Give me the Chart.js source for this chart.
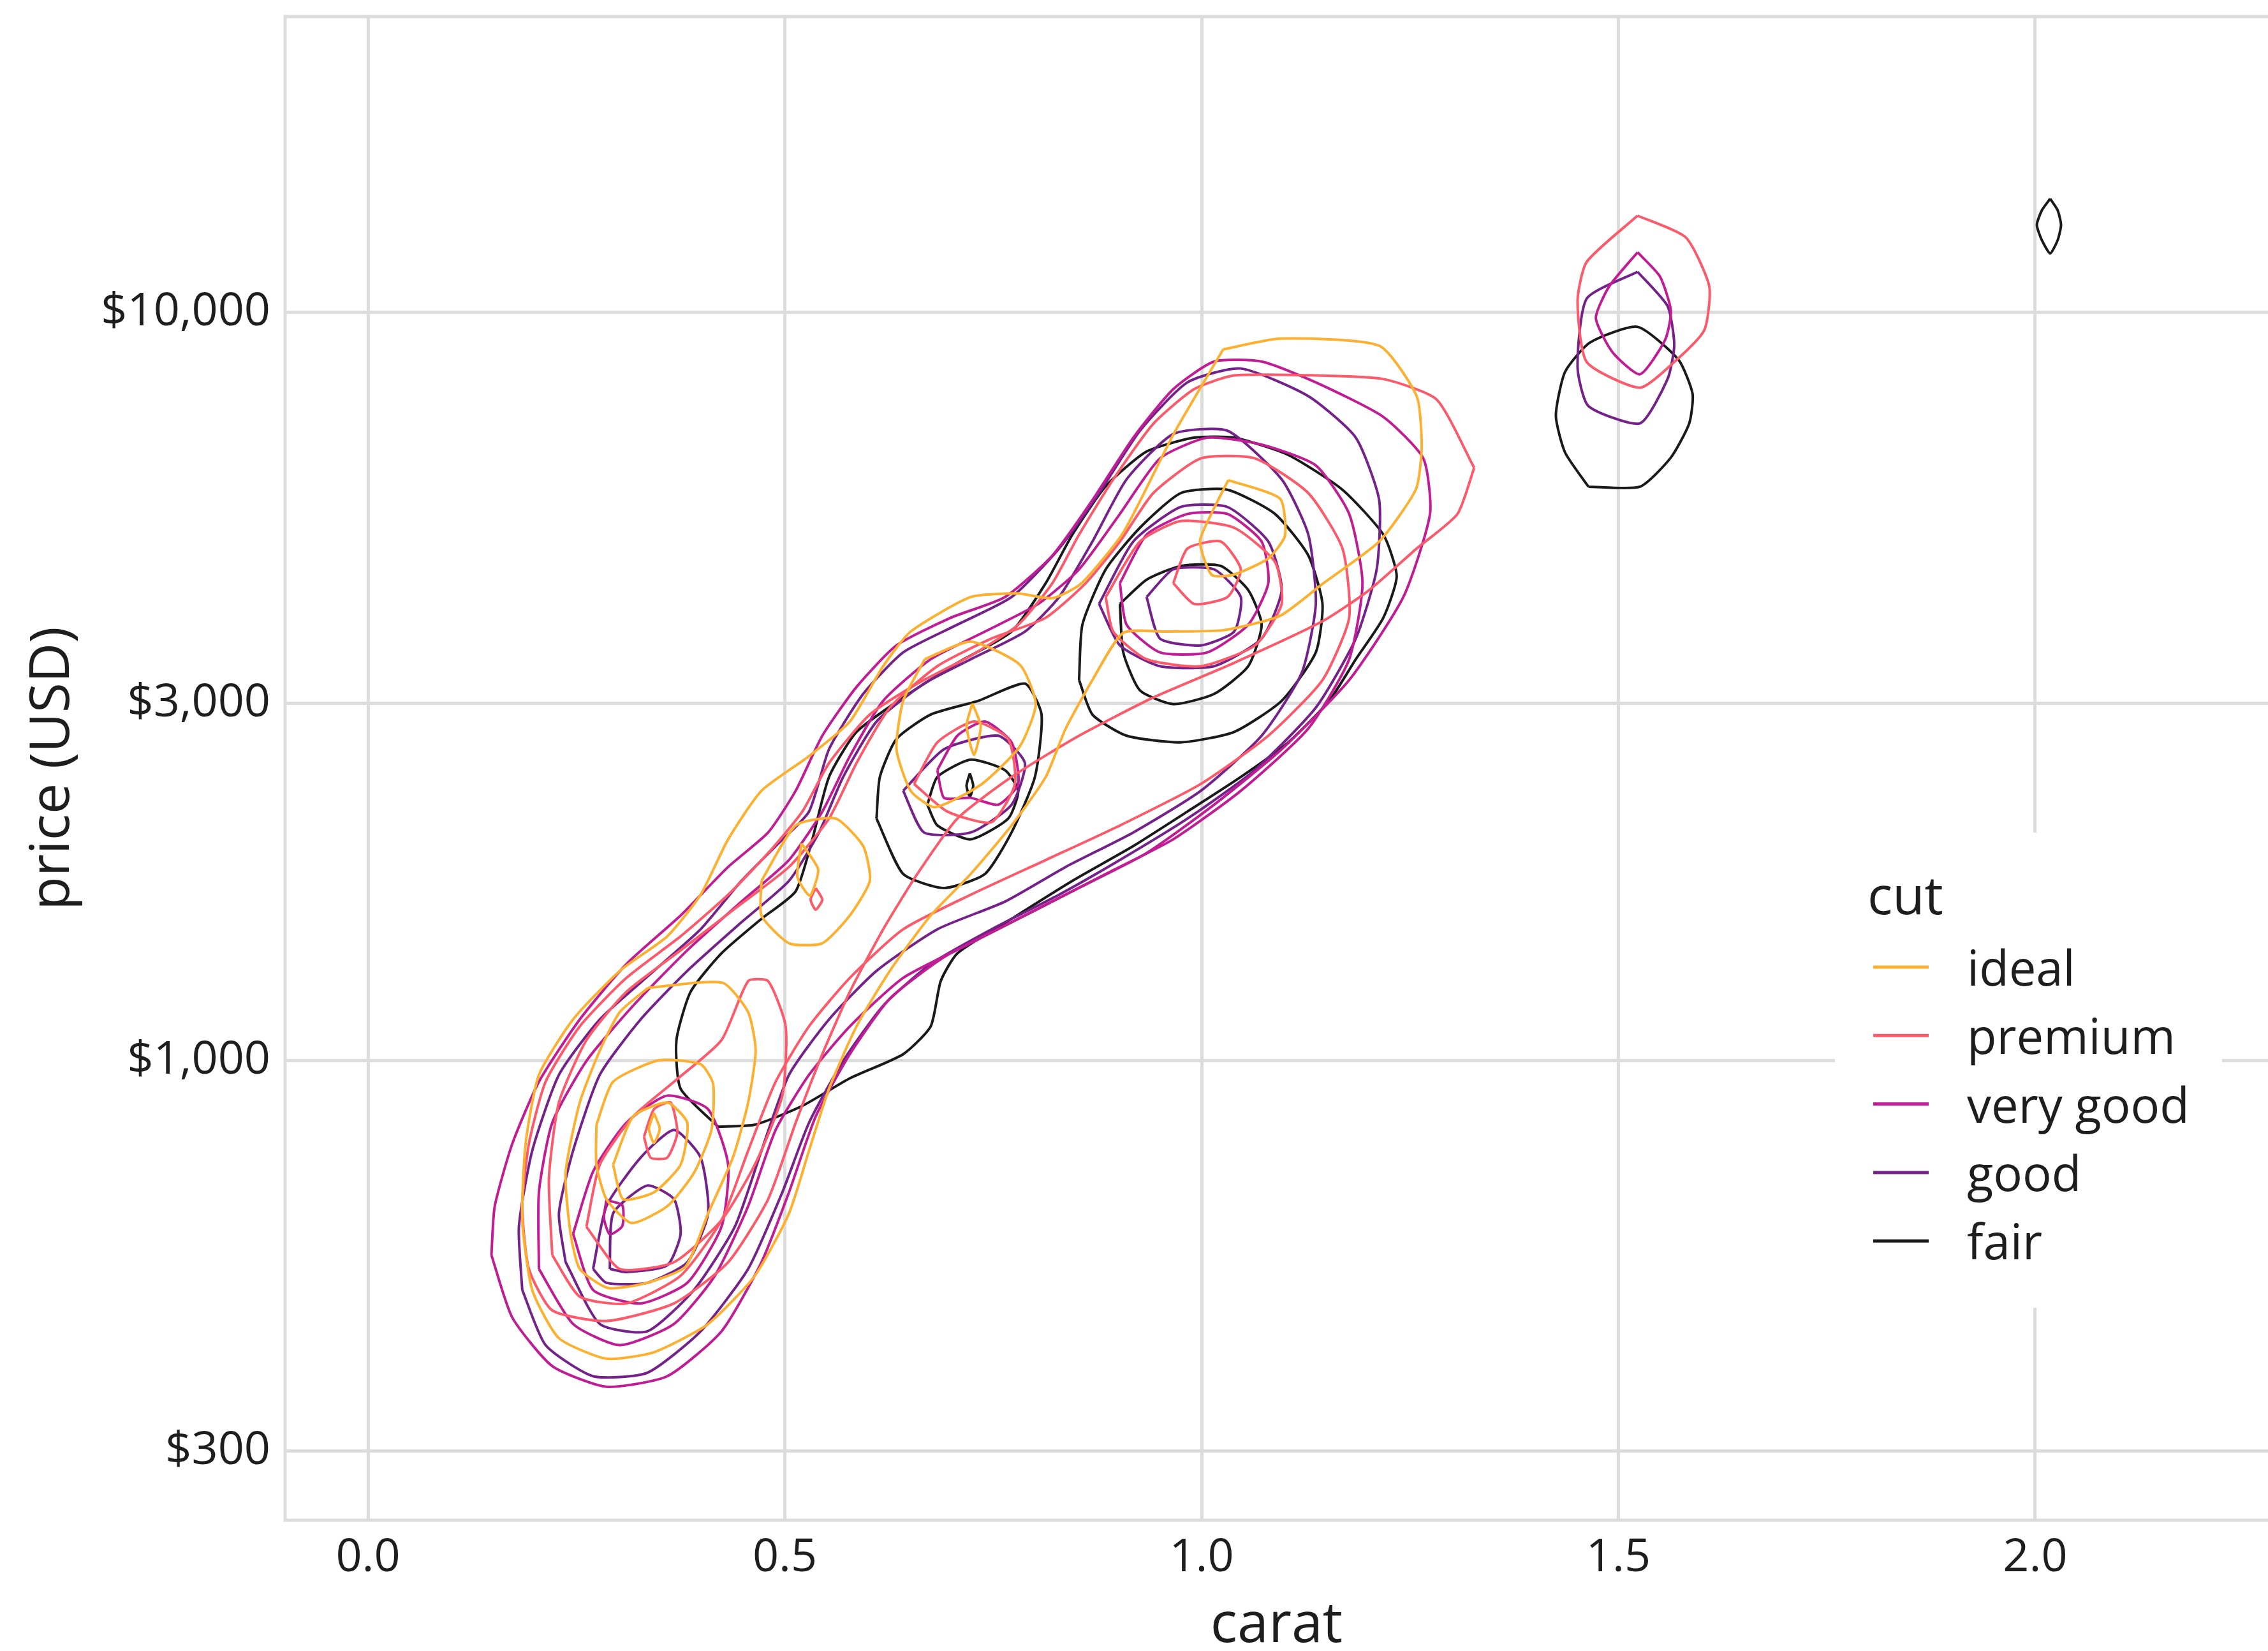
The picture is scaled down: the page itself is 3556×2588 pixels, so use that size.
<!DOCTYPE html>
<html>
<head>
<meta charset="utf-8">
<script src="https://cdn.jsdelivr.net/npm/chart.js@4.4.1/dist/chart.umd.min.js"></script>
<style>
  html, body { margin: 0; padding: 0; background: #ffffff; }
  #wrap { width: 3556px; height: 2588px; }
</style>
</head>
<body>
<div id="wrap"><canvas id="myChart" width="3556" height="2588"></canvas></div>
<script>
const cuts = ["ideal", "premium", "very good", "good", "fair"];
const xTicks = [0, 0.5, 1, 1.5, 2];
const yTicks = [300, 1000, 3000, 10000];

// density contour rings, each point is [carat, price in USD]
const idealRings = [
  [[1.026,8930],[1.094,9230],[1.213,9030],[1.258,7730],[1.264,6600],[1.257,5800],[1.213,4940],[1.145,4336],[1.094,3930],[1.026,3760],[0.958,3744],[0.906,3730],[0.869,3225],[0.837,2778],[0.813,2393],[0.772,2061],[0.723,1775],[0.675,1562],[0.626,1317],[0.586,1110],[0.553,916],[0.529,757],[0.505,624],[0.464,515],[0.408,444],[0.343,407],[0.286,399],[0.229,425],[0.197,493],[0.185,611],[0.189,773],[0.205,956],[0.246,1134],[0.302,1317],[0.359,1465],[0.399,1665],[0.432,1975],[0.472,2293],[0.529,2551],[0.578,2838],[0.618,3366],[0.651,3744],[0.723,4164],[0.78,4210],[0.821,4150],[0.855,4336],[0.906,5080],[0.967,6900]],
  [[0.336,1250],[0.425,1270],[0.456,1160],[0.465,1030],[0.456,878],[0.438,743],[0.408,624],[0.381,530],[0.335,504],[0.288,496],[0.254,526],[0.243,586],[0.237,707],[0.254,878],[0.278,1030],[0.302,1160]],
  [[0.274,820],[0.294,936],[0.349,1000],[0.399,988],[0.414,930],[0.412,807],[0.391,707],[0.359,638],[0.316,606],[0.286,652],[0.274,725]],
  [[0.294,725],[0.318,841],[0.359,878],[0.383,825],[0.375,725],[0.343,666],[0.306,652]],
  [[0.343,850],[0.35,810],[0.343,775],[0.337,810]],
  [[0.472,1738],[0.513,2061],[0.561,2105],[0.594,1934],[0.602,1738],[0.578,1562],[0.545,1434],[0.505,1434],[0.472,1562]],
  [[0.52,1950],[0.54,1800],[0.53,1660],[0.515,1760]],
  [[0.668,3440],[0.723,3630],[0.782,3380],[0.801,2995],[0.782,2630],[0.736,2340],[0.68,2180],[0.651,2293],[0.634,2606],[0.642,3025]],
  [[0.725,3000],[0.735,2800],[0.727,2560],[0.718,2800]],
  [[1.032,5970],[1.094,5640],[1.1,5030],[1.08,4690],[1.038,4460],[1.012,4460],[0.998,4940],[1.012,5390]]
];

const premiumRings = [
  [[1.327,6200],[1.307,5379],[1.258,4835],[1.201,4254],[1.145,3865],[1.039,3400],[0.942,3056],[0.853,2717],[0.772,2393],[0.707,2105],[0.659,1775],[0.618,1497],[0.578,1235],[0.545,1019],[0.513,825],[0.48,652],[0.432,537],[0.367,473],[0.286,448],[0.221,463],[0.193,526],[0.185,638],[0.193,773],[0.213,936],[0.254,1110],[0.31,1289],[0.375,1465],[0.432,1665],[0.48,1893],[0.521,2151],[0.553,2497],[0.602,2900],[0.659,3190],[0.723,3475],[0.78,3825],[0.821,4346],[0.853,5047],[0.894,5984],[0.942,7100],[0.991,7900],[1.039,8240],[1.137,8240],[1.218,8150],[1.282,7650]],
  [[0.221,549],[0.254,483],[0.31,473],[0.375,515],[0.424,611],[0.456,757],[0.489,936],[0.529,1110],[0.578,1289],[0.642,1497],[0.723,1665],[0.813,1853],[0.902,2061],[0.999,2342],[1.08,2717],[1.145,3225],[1.177,3907],[1.169,4835],[1.128,5735],[1.064,6381],[0.999,6381],[0.942,5735],[0.902,4940],[0.861,4346],[0.813,3907],[0.748,3665],[0.683,3366],[0.626,2962],[0.586,2497],[0.553,2105],[0.505,1814],[0.44,1595],[0.375,1403],[0.31,1235],[0.262,1064],[0.229,878],[0.217,695]],
  [[0.262,599],[0.278,725],[0.318,841],[0.367,936],[0.424,1064],[0.456,1276],[0.48,1276],[0.501,1110],[0.497,897],[0.464,725],[0.424,611],[0.367,537],[0.302,526]],
  [[0.331,790],[0.343,860],[0.363,878],[0.371,800],[0.359,741],[0.339,741]],
  [[0.537,1700],[0.545,1640],[0.537,1590],[0.531,1640]],
  [[0.655,2342],[0.683,2662],[0.727,2838],[0.768,2690],[0.776,2342],[0.748,2082],[0.695,2151]],
  [[0.885,4164],[0.926,4940],[0.975,5262],[1.039,5155],[1.088,4640],[1.096,4077],[1.064,3588],[0.999,3366],[0.934,3438],[0.894,3744]],
  [[0.966,4346],[0.983,4835],[1.023,4940],[1.047,4535],[1.031,4164],[0.991,4077]],
  [[1.523,13480],[1.581,12600],[1.609,10840],[1.603,9470],[1.567,8587],[1.526,7935],[1.462,8587],[1.451,10360],[1.462,11690]]
];

const veryGoodRings = [
  [[0.148,549],[0.173,453],[0.221,390],[0.286,366],[0.359,378],[0.424,434],[0.472,537],[0.505,666],[0.537,841],[0.578,1019],[0.626,1209],[0.691,1374],[0.772,1530],[0.853,1701],[0.934,1893],[1.015,2197],[1.096,2606],[1.177,3225],[1.242,4164],[1.274,5379],[1.266,6381],[1.218,7252],[1.137,8066],[1.072,8600],[1.015,8600],[0.966,7900],[0.918,6803],[0.869,5613],[0.821,4733],[0.764,4164],[0.699,3907],[0.634,3588],[0.586,3157],[0.545,2717],[0.513,2293],[0.48,2017],[0.432,1814],[0.375,1562],[0.31,1345],[0.254,1134],[0.205,936],[0.173,773],[0.152,638]],
  [[0.205,526],[0.246,444],[0.302,416],[0.367,444],[0.416,515],[0.456,638],[0.489,807],[0.529,956],[0.578,1110],[0.642,1289],[0.723,1434],[0.804,1595],[0.885,1775],[0.966,1975],[1.047,2293],[1.128,2778],[1.177,3438],[1.193,4346],[1.177,5379],[1.137,6245],[1.072,6659],[1.007,6803],[0.95,6381],[0.902,5379],[0.853,4535],[0.804,4077],[0.74,3744],[0.675,3438],[0.618,3025],[0.578,2551],[0.545,2151],[0.505,1853],[0.448,1630],[0.383,1403],[0.318,1183],[0.262,998],[0.221,825],[0.205,666]],
  [[0.246,586],[0.27,710],[0.31,825],[0.359,897],[0.408,860],[0.432,725],[0.424,599],[0.383,504],[0.327,473],[0.27,493]],
  [[0.286,650],[0.305,640],[0.305,600],[0.29,585],[0.283,615]],
  [[0.683,2445],[0.707,2717],[0.74,2838],[0.772,2662],[0.78,2342],[0.756,2197],[0.723,2244],[0.691,2244]],
  [[0.902,4346],[0.934,5047],[0.983,5379],[1.031,5379],[1.072,4940],[1.08,4346],[1.056,3825],[1.007,3512],[0.95,3512],[0.91,3825]],
  [[1.523,12040],[1.55,11170],[1.563,10050],[1.556,9190],[1.526,8270],[1.493,8850],[1.473,9830],[1.489,10840]]
];

const goodRings = [
  [[0.185,493],[0.213,416],[0.27,378],[0.335,382],[0.399,434],[0.456,526],[0.497,666],[0.529,825],[0.57,998],[0.618,1183],[0.675,1345],[0.748,1497],[0.829,1665],[0.902,1853],[0.983,2105],[1.064,2445],[1.137,2962],[1.185,3665],[1.21,4535],[1.213,5613],[1.185,6803],[1.128,7731],[1.047,8418],[0.983,8066],[0.926,6950],[0.877,5735],[0.829,4835],[0.772,4164],[0.707,3825],[0.642,3512],[0.594,3090],[0.553,2606],[0.529,2151],[0.489,1934],[0.448,1738],[0.399,1497],[0.343,1317],[0.278,1134],[0.229,956],[0.197,757],[0.181,599]],
  [[0.237,537],[0.278,444],[0.335,434],[0.391,493],[0.44,599],[0.472,757],[0.505,956],[0.553,1134],[0.61,1317],[0.683,1497],[0.764,1630],[0.837,1814],[0.918,2017],[0.999,2293],[1.072,2717],[1.12,3295],[1.137,4077],[1.128,5047],[1.096,5984],[1.031,6950],[0.966,6880],[0.91,5984],[0.869,4940],[0.829,4164],[0.788,3744],[0.723,3438],[0.667,3190],[0.61,2838],[0.57,2393],[0.541,2017],[0.505,1738],[0.448,1530],[0.383,1317],[0.327,1134],[0.278,956],[0.246,757],[0.229,624]],
  [[0.27,526],[0.286,638],[0.327,741],[0.367,807],[0.399,741],[0.408,624],[0.383,537],[0.335,504],[0.286,504]],
  [[0.642,2293],[0.691,2606],[0.756,2717],[0.788,2497],[0.772,2197],[0.723,2017],[0.667,2017]],
  [[0.877,4077],[0.918,4940],[0.975,5495],[1.031,5495],[1.08,4940],[1.096,4254],[1.072,3665],[1.015,3366],[0.95,3366],[0.902,3588]],
  [[0.29,526],[0.294,624],[0.335,680],[0.367,652],[0.375,586],[0.359,532],[0.31,521]],
  [[0.934,4164],[0.966,4535],[1.015,4535],[1.047,4164],[1.039,3744],[0.999,3588],[0.95,3665]],
  [[1.523,11340],[1.559,10200],[1.567,9050],[1.559,8150],[1.526,7110],[1.464,7500],[1.451,8460],[1.462,10440]]
];

const fairRings = [
  [[0.42,815],[0.375,916],[0.37,1064],[0.387,1235],[0.424,1390],[0.472,1546],[0.513,1683],[0.533,1975],[0.553,2393],[0.586,2749],[0.642,3056],[0.707,3400],[0.772,3744],[0.813,4346],[0.845,5047],[0.885,5858],[0.934,6518],[0.991,6803],[1.039,6803],[1.104,6450],[1.169,5795],[1.218,5047],[1.234,4440],[1.218,3907],[1.185,3438],[1.153,3025],[1.104,2662],[1.047,2393],[0.983,2151],[0.918,1934],[0.845,1738],[0.772,1546],[0.707,1390],[0.687,1276],[0.675,1110],[0.642,1019],[0.578,946],[0.521,869],[0.464,820]],
  [[0.61,2105],[0.614,2393],[0.634,2690],[0.675,2900],[0.732,3025],[0.788,3190],[0.808,2900],[0.8,2393],[0.772,2017],[0.74,1775],[0.691,1700],[0.642,1775]],
  [[0.853,3225],[0.857,3825],[0.885,4535],[0.926,5155],[0.975,5735],[1.031,5795],[1.088,5379],[1.128,4733],[1.145,4077],[1.137,3512],[1.096,3025],[1.039,2749],[0.975,2662],[0.91,2717],[0.869,2900]],
  [[0.671,2197],[0.683,2393],[0.723,2524],[0.764,2444],[0.78,2293],[0.768,2105],[0.723,1975],[0.683,2061]],
  [[0.902,4077],[0.934,4393],[0.975,4583],[1.023,4583],[1.056,4254],[1.072,3825],[1.056,3366],[1.015,3090],[0.966,2995],[0.926,3124],[0.906,3512]],
  [[0.722,2420],[0.726,2330],[0.722,2250],[0.718,2330]],
  [[1.464,5850],[1.526,5850],[1.563,6400],[1.585,7110],[1.589,7785],[1.572,8650],[1.523,9570],[1.466,9120],[1.436,8330],[1.425,7280],[1.436,6500]],
  [[2.018,14200],[2.027,13700],[2.031,13100],[2.027,12500],[2.018,12000],[2.008,12500],[2.002,13100],[2.008,13700]]
];

const ringsByCut = [idealRings, premiumRings, veryGoodRings, goodRings, fairRings];
const cutColors = ["#FDB02F", "#FB5A6A", "#C01C94", "#74218A", "#1A1A1A"];

const datasets = [];
ringsByCut.forEach((rings, i) => {
  rings.forEach(ring => {
    const closed = ring.concat([ring[0]]);
    datasets.push({
      label: cuts[i],
      data: closed.map(p => ({ x: p[0], y: p[1] })),
      borderColor: cutColors[i],
      backgroundColor: cutColors[i],
      borderWidth: 4,
      showLine: true,
      pointRadius: 0,
      pointHoverRadius: 0,
      fill: false,
      tension: 0.2
    });
  });
});

const gridGrey = "#dcdcdc";
const textCol = "#1e1e1e";
const fontFam = "'Open Sans', 'DejaVu Sans', sans-serif";

// panel border on left, top and bottom
const panelBorder = {
  id: "panelBorder",
  beforeDatasetsDraw(chart) {
    const { ctx, chartArea: a } = chart;
    ctx.save();
    ctx.strokeStyle = gridGrey;
    ctx.lineWidth = 5;
    ctx.beginPath();
    ctx.moveTo(chart.width, a.top);
    ctx.lineTo(a.left, a.top);
    ctx.lineTo(a.left, a.bottom);
    ctx.lineTo(chart.width, a.bottom);
    ctx.stroke();
    ctx.restore();
  }
};

// legend box inside the panel, with title
const cutLegend = {
  id: "cutLegend",
  afterDraw(chart) {
    const ctx = chart.ctx;
    ctx.save();
    ctx.fillStyle = "#ffffff";
    ctx.fillRect(2877, 1305, 607, 745);
    ctx.fillStyle = textCol;
    ctx.textBaseline = "alphabetic";
    ctx.textAlign = "left";
    ctx.font = "82px " + fontFam;
    ctx.fillText("cut", 2928, 1433);
    ctx.font = "76px " + fontFam;
    cuts.forEach((c, i) => {
      const base = 1545 + i * 107.3;
      ctx.strokeStyle = cutColors[i];
      ctx.lineWidth = 5;
      ctx.beginPath();
      ctx.moveTo(2937, base - 29);
      ctx.lineTo(3024, base - 29);
      ctx.stroke();
      ctx.fillText(c, 3084, base);
    });
    ctx.restore();
  }
};

Chart.defaults.font.family = fontFam;
Chart.defaults.color = textCol;

const config = {
  type: "scatter",
  data: { datasets: datasets },
  options: {
    responsive: false,
    animation: false,
    devicePixelRatio: 1,
    layout: { padding: { top: 26, right: 0, bottom: 0, left: 0 } },
    plugins: {
      legend: { display: false },
      tooltip: { enabled: false }
    },
    scales: {
      x: {
        type: "linear",
        min: -0.0995,
        max: 2.2793,
        afterBuildTicks: (axis) => { axis.ticks = xTicks.map(v => ({ value: v })); },
        afterFit: (axis) => {
          axis.height = 205;
          axis.paddingLeft = 0;
          axis.paddingRight = 0;
        },
        grid: { color: gridGrey, lineWidth: 5, drawTicks: false },
        border: { display: false },
        ticks: {
          padding: 16,
          font: { size: 72 },
          color: textCol,
          callback: (v) => Number(v).toFixed(1)
        },
        title: {
          display: true,
          text: "carat",
          font: { size: 88 },
          color: textCol,
          padding: { top: 0, bottom: -14 }
        }
      },
      y: {
        type: "logarithmic",
        min: 242.6,
        max: 24880,
        afterBuildTicks: (axis) => { axis.ticks = yTicks.map(v => ({ value: v })); },
        afterFit: (axis) => {
          axis.width = 447;
          axis.paddingTop = 0;
          axis.paddingBottom = 0;
        },
        grid: { color: gridGrey, lineWidth: 5, drawTicks: false },
        border: { display: false },
        ticks: {
          padding: 23,
          font: { size: 72 },
          color: textCol,
          callback: (v) => "$" + Number(v).toLocaleString("en-US")
        },
        title: {
          display: true,
          text: "price (USD)",
          font: { size: 86 },
          color: textCol,
          padding: { top: 32, bottom: 0 }
        }
      }
    }
  },
  plugins: [panelBorder, cutLegend]
};

const newChart = new Chart("myChart", config);
</script>
</body>
</html>
